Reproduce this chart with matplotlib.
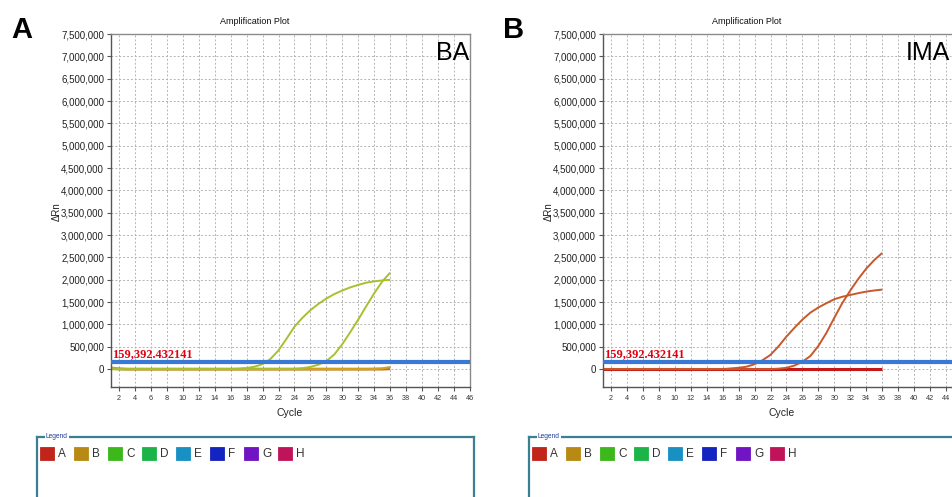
import matplotlib
matplotlib.use("Agg")
import matplotlib.pyplot as plt
from matplotlib.patches import Rectangle

W, H = 953, 497

# ---------------- data ----------------
cycles = [1, 2, 3, 4, 5, 6, 7, 8, 9, 10, 11, 12, 13, 14, 15, 16, 17, 18,
          19, 20, 21, 22, 23, 24, 25, 26, 27, 28, 29, 30, 31, 32, 33, 34, 35, 36]

ba_early = [0, 0, 0, 0, 0, 0, 0, 0, 0, 0, 0, 0, 0, 0, 0, 0,
            10000, 25000, 55000, 110000, 230000, 420000, 680000, 950000,
            1150000, 1320000, 1460000, 1580000, 1680000, 1760000, 1830000,
            1885000, 1935000, 1965000, 1985000, 2000000]
ba_late = [0, 0, 0, 0, 0, 0, 0, 0, 0, 0, 0, 0, 0, 0, 0, 0, 0, 0, 0, 0, 0, 0, 0,
           5000, 20000, 50000, 100000, 180000, 330000, 560000, 830000,
           1110000, 1410000, 1700000, 1960000, 2160000]
ba_base_gold = [35000, 12000, 0, 0, 0, 0, 0, 0, 0, 0, 0, 0, 0, 0, 0, 0, 0, 0,
                0, 0, 0, 0, 0, 0, 0, 0, 0, 0, 0, 0, 0, 0, 0, 5000, 15000, 45000]
ba_base_brown = [15000, 3000, 0, 0, 0, 0, 0, 0, 0, 0, 0, 0, 0, 0, 0, 0, 0, 0,
                 0, 0, 0, 0, 0, 0, 0, 0, 0, 0, 0, 0, 0, 0, 0, 0, 0, 8000]

ima_early = [0, 0, 0, 0, 0, 0, 0, 0, 0, 0, 0, 0, 0, 0, 0, 0,
             15000, 30000, 55000, 110000, 200000, 320000, 510000, 730000,
             925000, 1110000, 1265000, 1380000, 1475000, 1565000, 1620000,
             1660000, 1700000, 1735000, 1760000, 1780000]
ima_late = [0, 0, 0, 0, 0, 0, 0, 0, 0, 0, 0, 0, 0, 0, 0, 0, 0, 0, 0, 0, 0, 0,
            10000, 30000, 80000, 165000, 295000, 520000, 810000, 1150000,
            1480000, 1760000, 2020000, 2250000, 2440000, 2600000]
ima_base = [0, 0, 0, 0, 0, 0, 0, 0, 0, 0, 0, 0, 0, 0, 0, 0, 0, 0,
            0, 0, 0, 0, 0, 0, 0, 0, 0, 0, 0, 0, 0, 0, 0, 0, 0, 0]

threshold = 159392.432141
threshold_label = "159,392.432141"

y_ticks = [0, 500000, 1000000, 1500000, 2000000, 2500000, 3000000, 3500000,
           4000000, 4500000, 5000000, 5500000, 6000000, 6500000, 7000000, 7500000]
x_ticks = [2, 4, 6, 8, 10, 12, 14, 16, 18, 20, 22, 24, 26, 28, 30, 32, 34, 36,
           38, 40, 42, 44, 46]

legend_labels = ["A", "B", "C", "D", "E", "F", "G", "H"]
legend_colors = ["#c0241a", "#b88a14", "#3cb81c", "#1cb448", "#1890c4",
                 "#1424c0", "#7014c4", "#c0145a"]

panel_letters = ["A", "B"]
panel_tags = ["BA", "IMA"]

# ---------------- style ----------------
SANS = ["Liberation Sans", "DejaVu Sans"]
SERIF = ["Liberation Serif", "DejaVu Serif"]
plt.rcParams["font.family"] = SANS

fig = plt.figure(figsize=(W / 100, H / 100), dpi=100)
fig.patch.set_facecolor("white")


def fx(px):
    return px / W


def fy(py):
    return 1 - py / H


def draw_panel(off, letter, tag, series):
    ax = fig.add_axes([fx(111 + off), fy(387), 359 / W, 353 / H])
    ax.set_xlim(1, 46)
    ax.set_ylim(-400000, 7500000)
    ax.set_xticks(x_ticks)
    # hide tick labels that would fall outside the figure (right panel is cropped)
    xlabels = []
    for t in x_ticks:
        px = 111 + off + (t - 1) / 45 * 359
        xlabels.append(str(t) if px < W - 6 else "")
    ax.set_xticklabels(xlabels)
    ax.set_yticks(y_ticks)
    ax.set_yticklabels(["{:,}".format(v) for v in y_ticks])
    ax.grid(True, color="#b4b4b4", linestyle=(0, (2, 2)), linewidth=0.7)
    ax.set_axisbelow(True)
    for s in ax.spines.values():
        s.set_color("#8a8a8a")
        s.set_linewidth(1.0)
    ax.spines["left"].set_color("#555555")
    ax.spines["bottom"].set_color("#555555")
    ax.tick_params(axis="y", length=3, width=0.8, color="#555555",
                   labelsize=7, labelcolor="#222222", pad=2)
    ax.tick_params(axis="x", length=3, width=0.8, color="#555555",
                   labelsize=5.2, labelcolor="#333333", pad=3)

    for vals, color, lw in series:
        ax.plot(cycles, vals, color=color, linewidth=lw, solid_capstyle="butt")

    ax.axhline(threshold, color="#3a78d6", linewidth=3.0, zorder=5)
    ax.annotate(threshold_label, xy=(1, threshold), xytext=(0.5, 1.5),
                textcoords="offset points", ha="left", va="bottom",
                fontsize=8.9, fontweight="bold", family=SERIF,
                color="#e00010", zorder=6)

    # texts
    fig.text(fx(255 + off), fy(22), "Amplification Plot", ha="center",
             va="center", fontsize=6.5, color="#111111")
    fig.text(fx(290 + off), fy(413), "Cycle", ha="center", va="center",
             fontsize=7.5, color="#222222")
    fig.text(fx(57 + off), fy(212), "\u0394Rn", ha="center", va="center",
             rotation=90, fontsize=7, color="#222222")
    fig.text(fx(11 + off), fy(38), letter, ha="left", va="baseline",
             fontsize=21, fontweight="bold", color="black")
    if off == 0:
        fig.text(fx(469), fy(60), tag, ha="right", va="baseline",
                 fontsize=18, color="black")
    else:
        fig.text(fx(906), fy(60), tag, ha="left", va="baseline",
                 fontsize=18, color="black")

    # legend box
    lax = fig.add_axes([fx(37 + off), fy(515), 437 / W, 78 / H])
    lax.set_xlim(0, 437)
    lax.set_ylim(78, 0)
    lax.set_xticks([])
    lax.set_yticks([])
    for k, s in lax.spines.items():
        s.set_color("#3b7f92")
        s.set_linewidth(1.6)
    lax.spines["bottom"].set_visible(False)
    lax.text(9, 0, "Legend", ha="left", va="center", fontsize=4.8,
             color="#1f3f9a",
             bbox=dict(facecolor="white", edgecolor="none", pad=0.6))
    for i, (lab, col) in enumerate(zip(legend_labels, legend_colors)):
        x0 = 3 + 34 * i
        lax.add_patch(Rectangle((x0, 10), 14, 13, facecolor=col,
                                edgecolor=col, linewidth=0.6))
        lax.text(x0 + 18, 17, lab, ha="left", va="center", fontsize=8.5,
                 color="#333333")
    return ax


draw_panel(0, panel_letters[0], panel_tags[0], [
    (ba_base_brown, "#b8701c", 2.0),
    (ba_base_gold, "#d4a020", 1.6),
    (ba_early, "#a8c030", 1.4),
    (ba_late, "#a8c030", 1.4),
])

draw_panel(492, panel_letters[1], panel_tags[1], [
    (ima_base, "#c41818", 2.2),
    (ima_early, "#c8582a", 1.4),
    (ima_late, "#c8582a", 1.4),
])

fig.savefig("out.png", dpi=100, facecolor="white")
